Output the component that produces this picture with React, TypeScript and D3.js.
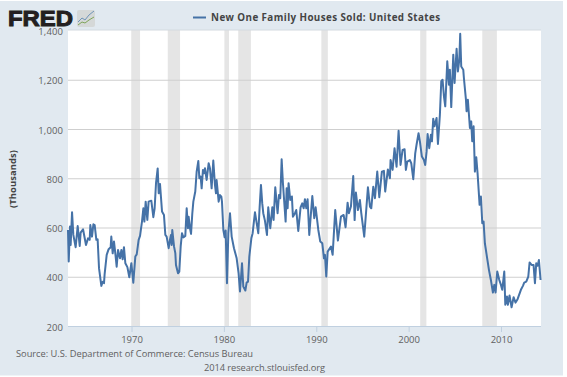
import React from "react";
import * as d3 from "d3";

const W = 567, H = 377;

const salesYears = [
1963.07,1963.15,1963.29,1963.36,1963.51,1963.65,1963.90,1964.12,1964.34,1964.44,1964.70,1965.02,1965.24,1965.42,1965.49,1965.67,1965.82,1965.96,1966.14,1966.28,1966.43,1966.68,1966.83,1966.97,1967.04,1967.26,1967.47,1967.69,1967.76,1967.91,1968.05,1968.20,1968.34,1968.49,1968.70,1968.85,1968.99,1969.13,1969.28,1969.50,1969.71,1969.93,1970.14,1970.36,1970.51,1970.72,1970.87,1971.08,1971.23,1971.34,1971.48,1971.66,1971.80,1972.09,1972.31,1972.45,1972.60,1972.78,1972.89,1973.03,
1973.25,1973.46,1973.61,1973.75,1973.97,1974.11,1974.22,1974.29,1974.36,1974.55,1974.69,1974.76,1974.98,1975.12,1975.27,1975.41,1975.56,1975.77,1975.92,1976.06,1976.13,1976.28,1976.39,1976.53,1976.64,1976.85,1977.0,1977.18,1977.29,1977.43,1977.54,1977.68,1977.79,1977.90,1978.08,1978.30,1978.44,1978.62,1978.80,1978.98,1979.09,1979.16,1979.38,1979.52,1979.67,1979.74,1979.89,1980.03,1980.14,1980.28,1980.43,1980.61,1980.79,1981.04,1981.33,1981.54,1981.69,1981.91,1982.05,1982.27,1982.41,1982.56,1982.70,1982.92,1983.06,1983.31,
1983.67,1983.82,1983.96,1984.10,1984.21,1984.39,1984.61,1984.75,1984.97,1985.19,1985.33,1985.51,1985.76,1985.91,1986.05,1986.20,1986.34,1986.63,1986.74,1986.85,1986.95,1987.13,1987.31,1987.42,1987.64,1987.78,1988.0,1988.25,1988.43,1988.58,1988.72,1988.87,1989.01,1989.19,1989.52,1989.73,1989.88,1990.17,1990.38,1990.60,1990.78,1990.89,1991.03,1991.18,1991.54,1991.72,1992.0,1992.29,1992.62,1992.91,1993.12,1993.34,1993.48,
1993.70,1993.95,1994.10,1994.24,1994.46,1994.67,1994.82,1995.14,1995.54,1995.76,1995.90,1996.12,1996.30,1996.55,1996.77,1997.05,1997.27,1997.41,1997.70,1997.92,1997.99,1998.21,1998.42,1998.64,1998.86,1999.07,1999.29,1999.51,1999.65,1999.80,2000.08,2000.23,2000.45,2000.66,2000.80,2001.02,2001.17,2001.38,2001.60,2001.74,2001.89,2002.0,2002.18,
2002.36,2002.47,2002.61,2002.75,2002.97,2003.12,2003.33,2003.48,2003.62,2003.77,2003.91,2004.13,2004.31,2004.41,2004.56,2004.78,2004.92,2005.14,2005.28,2005.43,2005.53,2005.64,2005.86,2005.93,2006.15,2006.22,2006.36,2006.58,2006.72,2006.83,2006.98,
2007.12,2007.27,2007.41,2007.63,2007.77,2007.92,2008.06,2008.2,2008.42,2008.64,2008.85,2009.07,2009.22,2009.36,2009.54,2009.76,2009.94,2010.08,2010.30,2010.41,2010.59,2010.69,2010.87,2011.09,2011.31,2011.52,2011.74,2012.1,2012.32,2012.46,2012.68,2012.9,2013.04,2013.26,2013.47,2013.62,2013.76,2013.91,2014.05,2014.23];

const salesValues = [
592,464,606,531,664,572,522,608,527,581,595,531,558,552,612,565,615,612,552,554,437,365,382,376,414,491,514,522,565,497,545,495,443,511,477,511,473,522,457,441,400,457,378,484,493,552,568,626,680,626,707,633,707,711,644,680,782,842,741,779,
667,653,572,565,518,552,572,531,592,525,498,450,416,423,525,579,562,568,680,599,646,599,576,660,707,748,829,872,802,809,761,836,822,843,795,863,843,761,874,775,741,795,707,734,727,707,592,562,590,376,579,660,565,518,477,416,342,457,362,346,378,382,484,558,579,664,
579,687,775,700,660,630,572,684,599,684,633,765,660,734,721,879,782,626,761,680,782,714,728,646,660,673,588,684,700,680,717,680,717,572,730,640,684,592,545,538,477,491,403,504,525,491,673,549,646,653,603,703,660,
687,811,632,744,673,714,660,565,765,687,680,768,721,829,725,829,832,748,838,802,876,836,924,849,995,856,917,920,836,870,876,863,798,903,937,985,951,890,876,856,910,982,924,
979,952,1044,1013,1047,941,1060,1196,1202,1135,1094,1277,1182,1243,1091,1304,1189,1328,1236,1283,1389,1256,1243,1209,1121,1074,1121,1006,1033,952,1013,
829,887,822,694,728,619,626,538,484,430,389,338,369,338,423,389,369,349,423,288,322,288,326,278,319,297,311,349,365,378,382,403,460,450,450,376,457,447,470,389];

const recessionStarts = [1969.92, 1973.87, 1980.0, 1981.5, 1990.5, 2001.2, 2007.92];
const recessionEnds = [1970.87, 1975.2, 1980.5, 1982.87, 1991.2, 2001.87, 2009.5];
const yTicks = [200, 400, 600, 800, 1000, 1200, 1400];
const xTicks = [1970, 1980, 1990, 2000, 2010];

const titleText = "New One Family Houses Sold: United States";
const sourceText = "Source: U.S. Department of Commerce: Census Bureau";
const creditText = "2014 research.stlouisfed.org";
const yAxisTitle = "(Thousands)";

const font = "'Open Sans', 'DejaVu Sans', sans-serif";

export default function App() {
  const x = d3.scaleLinear().domain([1970, 2010]).range([132, 501.5]);
  const y = d3.scaleLinear().domain([200, 1400]).range([326.5, 31]);
  const left = 68, right = 541;
  const line = d3.line<number>().x((_, i) => x(salesYears[i])).y((v) => y(v));
  return (
    <svg width={W} height={H} viewBox={`0 0 ${W} ${H}`} style={{ position: "absolute", left: 0, top: 0, display: "block" }}>
      <rect x={0} y={0} width={W} height={H} fill="#fff" />
      <rect x={0} y={1} width={563} height={374.5} fill="#e1e9f0" />
      <rect x={left} y={30} width={right - left} height={296.5} fill="#fff" />
      {recessionStarts.map((s, i) => (
        <rect key={s} x={x(s)} y={30} width={x(recessionEnds[i]) - x(s)} height={296.5} fill="#e5e5e5" />
      ))}
      <line x1={left} x2={right} y1={30} y2={30} stroke="#d3dae0" strokeWidth={1} />
      {yTicks.filter((t) => t !== 1400).map((t) => (
        <line key={t} x1={left} x2={right} y1={y(t)} y2={y(t)} stroke={t === 200 ? "#c0d0e0" : "#cfcfcf"} strokeWidth={1} />
      ))}
      {xTicks.map((t) => (
        <line key={t} x1={x(t)} x2={x(t)} y1={326.5} y2={332} stroke="#c0d0e0" strokeWidth={1} />
      ))}
      <path d={line(salesValues) ?? ""} fill="none" stroke="#4572a7" strokeWidth={2} strokeLinejoin="round" />
      {yTicks.map((t) => (
        <text key={t} x={63} y={y(t) + 4} textAnchor="end" fontFamily={font} fontSize={9.5} letterSpacing={0.1} fill="#606060">
          {d3.format(",")(t)}
        </text>
      ))}
      {xTicks.map((t) => (
        <text key={t} x={x(t)} y={343} textAnchor="middle" fontFamily={font} fontSize={9.5} fill="#606060">
          {t}
        </text>
      ))}
      <text transform="translate(16,179) rotate(-90)" textAnchor="middle" fontFamily={font} fontSize={9.3} fontWeight="bold" fill="#444" textLength={58} lengthAdjust="spacing">
        {yAxisTitle}
      </text>
      <line x1={193} x2={206} y1={17.5} y2={17.5} stroke="#4572a7" strokeWidth={2} />
      <text x={211} y={21} fontFamily={font} fontSize={9.8} fontWeight="bold" fill="#444" textLength={229} lengthAdjust="spacing">
        {titleText}
      </text>
      <text x={16} y={357} fontFamily={font} fontSize={9.3} fill="#606060" textLength={237} lengthAdjust="spacing">
        {sourceText}
      </text>
      <text x={204} y={371} fontFamily={font} fontSize={9.3} fill="#606060" textLength={121} lengthAdjust="spacing">
        {creditText}
      </text>
      <text x={8} y={25.5} fontFamily="'Liberation Sans', Arial, sans-serif" fontSize={22.5} fontWeight="bold" fill="#231f20" stroke="#231f20" strokeWidth={1} textLength={65} lengthAdjust="spacingAndGlyphs">
        FRED
      </text>
      <rect x={77} y={10} width={18} height={17} rx={2} fill="#d5d8d8" />
      <polyline points="78,22 82,18 85,20 89,15 94,11" fill="none" stroke="#6f94b8" strokeWidth={1} />
      <polyline points="78,25 82,22 85,23 89,20 94,17" fill="none" stroke="#7fa55a" strokeWidth={1} />
    </svg>
  );
}
